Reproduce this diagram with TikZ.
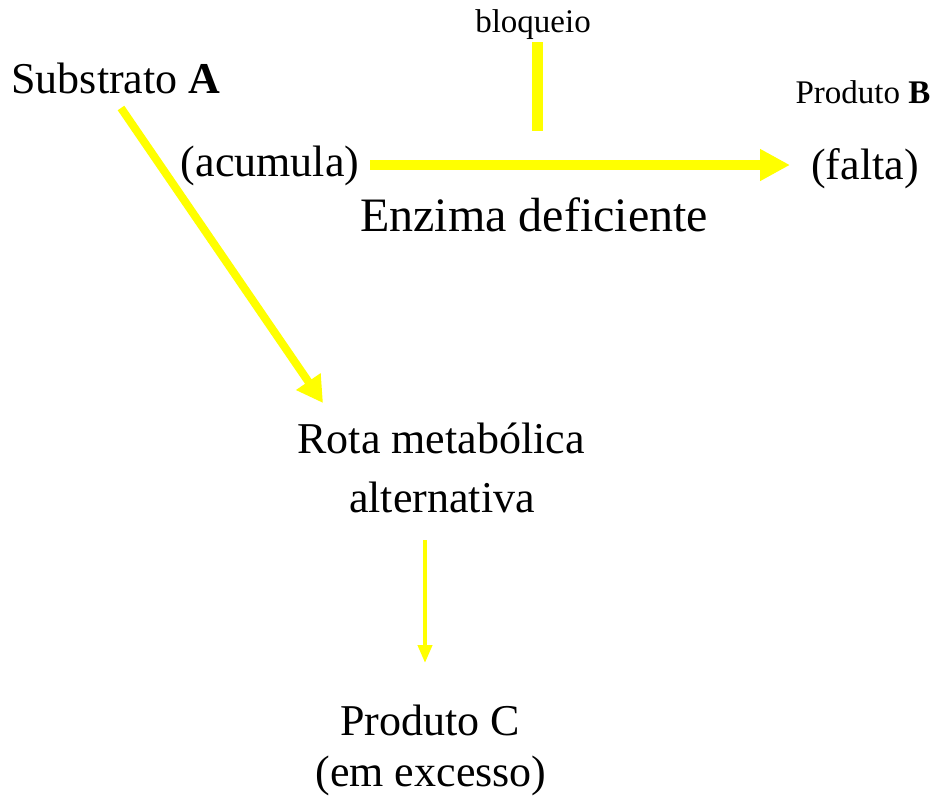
\documentclass[tikz,border=0pt]{standalone}
\usepackage{fontspec}
\setmainfont{Liberation Serif}
\usetikzlibrary{arrows.meta}
\definecolor{yel}{RGB}{255,255,0}
\begin{document}
\begin{tikzpicture}[x=1pt,y=-1pt,
  big/.style={font=\fontsize{44}{50}\selectfont, inner sep=0pt, anchor=base},
  bigger/.style={font=\fontsize{48}{54}\selectfont, inner sep=0pt, anchor=base},
  small/.style={font=\fontsize{33}{38}\selectfont, inner sep=0pt, anchor=base},
  thickarrow/.style={draw=yel, line width=10pt, -{Triangle[length=30pt,width=30pt]}},
  diagarrow/.style={draw=yel, line width=8pt, -{Triangle[length=26pt,width=28pt]}},
  thinarrow/.style={draw=yel, line width=4pt, -{Triangle[length=18pt,width=14pt]}},
  blockbar/.style={draw=yel, line width=11pt}
]
\path[use as bounding box, fill=white] (0,0) rectangle (933,801);

\node[big] (sub) at (116,93) {Substrato \textbf{A}};
\node[small] (blo) at (533,32) {bloqueio};
\node[small] (pb) at (863,103) {Produto \textbf{B}};
\node[big] (acu) at (270,176) {(acumula)};
\node[big] (fal) at (865,179) {(falta)};
\node[bigger] (enz) at (534,231) {Enzima deficiente};
\node[big] (rota) at (441,453) {Rota metabólica};
\node[big] (alt) at (442,512) {alternativa};
\node[big] (pc) at (430,735) {Produto C};
\node[big] (exc) at (431,786) {(em excesso)};

\coordinate (hs) at (370,165);
\coordinate (he) at (790,165);
\coordinate (bt) at (537,42);
\coordinate (bb) at (537,131);
\coordinate (ds) at (121,108);
\coordinate (de) at (323,403);
\coordinate (vs) at (425,540);
\coordinate (ve) at (425,663);

\draw[thickarrow] (hs) -- (he);
\draw[blockbar] (bt) -- (bb);
\draw[diagarrow] (ds) -- (de);
\draw[thinarrow] (vs) -- (ve);
\end{tikzpicture}
\end{document}
